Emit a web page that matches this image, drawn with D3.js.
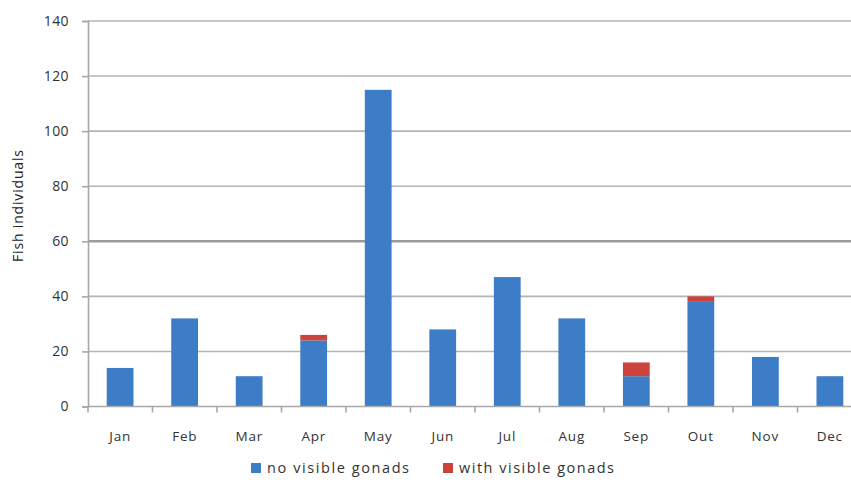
<!DOCTYPE html>
<html>
<head>
<meta charset="utf-8">
<script src="https://cdn.jsdelivr.net/npm/d3@7"></script>
<style>
  html, body { margin: 0; padding: 0; background: #fff; }
  svg { display: block; font-family: "Open Sans", sans-serif; }
</style>
</head>
<body>
<svg id="chart" width="851" height="486"></svg>
<script>
// Monthly counts of fish individuals, split by gonad visibility
const months = ["Jan", "Feb", "Mar", "Apr", "May", "Jun", "Jul", "Aug", "Sep", "Out", "Nov", "Dec"];
const noVisibleGonads = [14, 32, 11, 24, 115, 28, 47, 32, 11, 38, 18, 11];
const withVisibleGonads = [0, 0, 0, 2, 0, 0, 0, 0, 5, 2, 0, 0];
const yTicks = [0, 20, 40, 60, 80, 100, 120, 140];
const seriesNames = ["no visible gonads", "with visible gonads"];
const seriesColors = ["#3d7cc6", "#cc433d"];

const svg = d3.select("#chart");
const x0 = 88, x1 = 862, yBase = 406.5, yTop = 21;

const rows = months.map((m, i) => ({ month: m, a: noVisibleGonads[i], b: withVisibleGonads[i] }));
const stacked = d3.stack().keys(["a", "b"])(rows);

const x = d3.scaleBand().domain(months).range([x0, x1]).paddingInner(0.585).paddingOuter(0.29);
const xb = d3.scaleBand().domain(months).range([x0, x1]);
const y = d3.scaleLinear().domain([0, 140]).range([yBase, yTop]);

// horizontal gridlines
svg.append("g").selectAll("line").data(yTicks.filter(d => d > 0)).join("line")
  .attr("x1", x0).attr("x2", 851)
  .attr("y1", d => y(d)).attr("y2", d => y(d))
  .attr("stroke", d => d === 60 ? "#9a9a9a" : "#b4b4b4")
  .attr("stroke-width", d => d === 60 ? 2.6 : 1.6);

// y axis
const yAxis = svg.append("g").attr("transform", `translate(${x0},0)`)
  .call(d3.axisLeft(y).tickValues(yTicks).tickSize(6).tickPadding(13));
yAxis.select(".domain").attr("stroke", "#a8a8a8").attr("stroke-width", 1.6);
yAxis.selectAll(".tick line").attr("stroke", "#a8a8a8").attr("stroke-width", 1.6);
yAxis.selectAll("text").attr("font-size", 14).attr("letter-spacing", 0.4)
  .attr("fill", "#333").attr("font-family", "Open Sans, sans-serif");

// stacked bars
svg.append("g").selectAll("g").data(stacked).join("g")
  .attr("fill", (d, i) => seriesColors[i])
  .selectAll("rect").data(d => d).join("rect")
  .attr("x", d => x(d.data.month))
  .attr("width", x.bandwidth())
  .attr("y", d => y(d[1]))
  .attr("height", d => y(d[0]) - y(d[1]));

// x axis baseline with boundary ticks
svg.append("line").attr("x1", x0).attr("x2", 851).attr("y1", yBase).attr("y2", yBase)
  .attr("stroke", "#a8a8a8").attr("stroke-width", 1.6);
svg.append("g").selectAll("line").data(months).join("line")
  .attr("x1", d => xb(d)).attr("x2", d => xb(d))
  .attr("y1", yBase).attr("y2", yBase + 6)
  .attr("stroke", "#a8a8a8").attr("stroke-width", 1.6);
svg.append("g").selectAll("text").data(months).join("text")
  .attr("x", d => xb(d) + xb.bandwidth() / 2)
  .attr("y", 441)
  .attr("text-anchor", "middle")
  .attr("font-size", 13.5)
  .attr("letter-spacing", 0.8)
  .attr("fill", "#333")
  .text(d => d);

// y axis title
svg.append("text")
  .attr("transform", "translate(23,206) rotate(-90)")
  .attr("text-anchor", "middle")
  .attr("font-size", 14)
  .attr("textLength", 112)
  .attr("lengthAdjust", "spacing")
  .attr("fill", "#222")
  .text("Fish individuals");

// legend
const legendX = [251, 443];
const legendW = [142, 155];
const legend = svg.append("g").selectAll("g").data(seriesNames).join("g")
  .attr("transform", (d, i) => `translate(${legendX[i]},472)`);
legend.append("rect").attr("x", 0).attr("y", -9).attr("width", 10).attr("height", 10)
  .attr("fill", (d, i) => seriesColors[i]);
legend.append("text").attr("x", 16).attr("y", 1)
  .attr("font-size", 14.5)
  .attr("textLength", (d, i) => legendW[i])
  .attr("lengthAdjust", "spacing")
  .attr("fill", "#333")
  .text(d => d);
</script>
</body>
</html>
